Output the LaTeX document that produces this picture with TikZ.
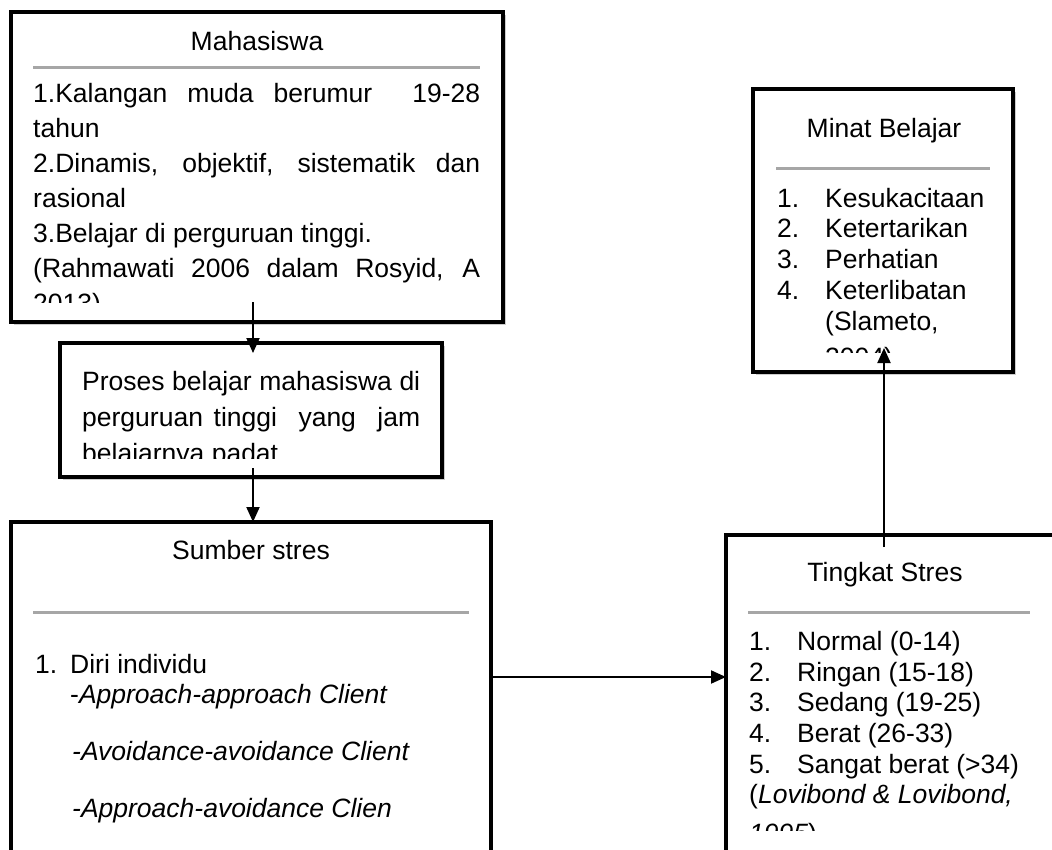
\documentclass[tikz,border=0pt]{standalone}
\usepackage{fontspec}
\setmainfont{Liberation Sans}
\usetikzlibrary{arrows.meta}
\definecolor{sepgray}{RGB}{166,166,166}
\definecolor{shadowgray}{RGB}{205,205,205}
\begin{document}
\begin{tikzpicture}[x=1pt,y=-1pt,
  box/.style={draw=black,line width=3.5pt,fill=white,rectangle,inner sep=0pt,outer sep=0pt,anchor=north west},
  shadowbox/.style={fill=shadowgray,draw=none,rectangle,inner sep=0pt,outer sep=0pt,anchor=north west},
  sepline/.style={draw=sepgray,line width=3pt},
  txt/.style={anchor=base west,inner sep=0pt,font=\fontsize{26.5}{30}\selectfont},
  ttl/.style={anchor=base,inner sep=0pt,font=\fontsize{26.5}{30}\selectfont},
  arr/.style={draw=black,line width=2pt,-{Triangle[length=15pt,width=13pt]}}
]
\clip (0,0) rectangle (1052,849);
\fill[white] (0,0) rectangle (1052,849);

% shadows
\node[shadowbox,minimum width=492pt,minimum height=310pt] (mhsS) at (14,15) {};
\node[shadowbox,minimum width=382pt,minimum height=134pt] (prosesS) at (63,346) {};
\node[shadowbox,minimum width=260pt,minimum height=283pt] (minatS) at (756,92) {};

% boxes
\node[box,minimum width=492pt,minimum height=310pt] (mhs) at (11,12) {};
\node[box,minimum width=382pt,minimum height=134pt] (proses) at (60,343) {};
\node[box,minimum width=480pt,minimum height=420pt] (sumber) at (11,522) {};
\node[box,minimum width=260pt,minimum height=283pt] (minat) at (753,89) {};
\node[box,minimum width=420pt,minimum height=420pt] (tingkat) at (726,535) {};

% separators
\draw[sepline] (33,67) -- (480,67);
\draw[sepline] (33,612) -- (469,612);
\draw[sepline] (776,168) -- (990,168);
\draw[sepline] (748,612) -- (1030,612);

% Mahasiswa
\node[ttl] (mhsT) at (257,50) {Mahasiswa};
\begin{scope}
\clip (11,12) rectangle (503,302);
\node[txt] (m1) at (33,102) {\makebox[447pt][s]{1.Kalangan muda berumur\ \ 19-28}};
\node[txt] (m2) at (33,137) {tahun};
\node[txt] (m3) at (33,172) {\makebox[447pt][s]{2.Dinamis, objektif, sistematik dan}};
\node[txt] (m4) at (33,207) {rasional};
\node[txt] (m5) at (33,242) {3.Belajar di perguruan tinggi.};
\node[txt] (m6) at (33,277) {\makebox[447pt][s]{(Rahmawati 2006 dalam Rosyid, A}};
\node[txt] (m7) at (33,312) {2013)};
\end{scope}

% Proses
\begin{scope}
\clip (60,343) rectangle (442,458);
\node[txt] (p1) at (82,390) {\makebox[338pt][s]{Proses belajar mahasiswa di}};
\node[txt] (p2) at (82,426) {\makebox[338pt][s]{perguruan tinggi\ \ yang\ \ jam}};
\node[txt] (p3) at (82,462) {belajarnya padat};
\end{scope}

% Sumber stres
\node[ttl] (sT) at (251,559) {Sumber stres};
\node[txt] (s1n) at (35,673) {1.};
\node[txt] (s1) at (70,673) {Diri individu};
\node[txt] (s2) at (70,703) {-\textit{Approach-approach Client}};
\node[txt] (s3) at (72,760) {\textit{-Avoidance-avoidance Client}};
\node[txt] (s4) at (72,817) {\textit{-Approach-avoidance Clien}};

% Minat Belajar
\node[ttl] (mnT) at (884,137) {Minat Belajar};
\begin{scope}
\clip (753,89) rectangle (1013,352);
\node[txt] (n1n) at (777,207) {1.};
\node[txt] (n1) at (825,207) {Kesukacitaan};
\node[txt] (n2n) at (777,237) {2.};
\node[txt] (n2) at (825,237) {Ketertarikan};
\node[txt] (n3n) at (777,268) {3.};
\node[txt] (n3) at (825,268) {Perhatian};
\node[txt] (n4n) at (777,299) {4.};
\node[txt] (n4) at (825,299) {Keterlibatan};
\node[txt] (n5) at (825,330) {(Slameto,};
\node[txt] (n6) at (825,366) {2004)};
\end{scope}

% Tingkat Stres
\node[ttl] (tT) at (885,581) {Tingkat Stres};
\begin{scope}
\clip (726,535) rectangle (1052,830);
\node[txt] (t1n) at (749,650) {1.};
\node[txt] (t1) at (797,650) {Normal (0-14)};
\node[txt] (t2n) at (749,681) {2.};
\node[txt] (t2) at (797,681) {Ringan (15-18)};
\node[txt] (t3n) at (749,711) {3.};
\node[txt] (t3) at (797,711) {Sedang (19-25)};
\node[txt] (t4n) at (749,742) {4.};
\node[txt] (t4) at (797,742) {Berat (26-33)};
\node[txt] (t5n) at (749,773) {5.};
\node[txt] (t5) at (797,773) {Sangat berat (>34)};
\node[txt] (t6) at (749,803) {(\textit{Lovibond \& Lovibond,}};
\node[txt] (t7) at (749,842) {\textit{1995})};
\end{scope}

% connectors
\coordinate (a1) at (253,302);
\coordinate (a2) at (253,468);
\coordinate (a3) at (491,677);
\coordinate (a4) at (884,547);
\draw[arr,shorten >=-10pt] (a1) -- (a1 |- proses.north);
\draw[arr] (a2) -- (a2 |- sumber.north);
\draw[arr] (a3) -- (a3 -| tingkat.west);
\draw[arr,shorten >=-24pt] (a4) -- (a4 |- minat.south);
\end{tikzpicture}
\end{document}
